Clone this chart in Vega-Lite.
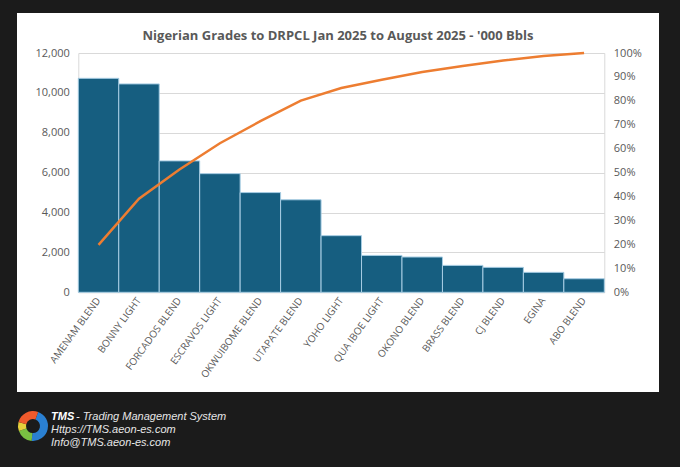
{
  "$schema": "https://vega.github.io/schema/vega-lite/v6.json",
  "background": "#1b1b1b",
  "padding": {"left": 17, "top": 13, "right": 21, "bottom": 17},
  "config": {
    "view": {"stroke": null},
    "axis": {
      "labelFont": "Open Sans",
      "labelColor": "#595959",
      "domainColor": "#d9d9d9",
      "ticks": false,
      "gridColor": "#d9d9d9"
    }
  },
  "spacing": 18,
  "vconcat": [
    {
      "width": 642,
      "height": 379,
      "view": {"fill": "white", "stroke": null},
      "title": {
        "text": "Nigerian Grades to DRPCL Jan 2025 to August 2025 - '000 Bbls",
        "font": "Open Sans",
        "fontSize": 13,
        "fontWeight": "bold",
        "color": "#595959",
        "anchor": "middle",
        "offset": -30
      },
      "data": {
        "values": [
          {"grade": "AMENAM BLEND", "bbl": 10730, "cum": 0.198},
          {"grade": "BONNY LIGHT", "bbl": 10450, "cum": 0.391},
          {"grade": "FORCADOS BLEND", "bbl": 6590, "cum": 0.513},
          {"grade": "ESCRAVOS LIGHT", "bbl": 5950, "cum": 0.623},
          {"grade": "OKWUIBOME BLEND", "bbl": 5000, "cum": 0.715},
          {"grade": "UTAPATE BLEND", "bbl": 4640, "cum": 0.801},
          {"grade": "YOHO LIGHT", "bbl": 2840, "cum": 0.854},
          {"grade": "QUA IBOE LIGHT", "bbl": 1850, "cum": 0.888},
          {"grade": "OKONO BLEND", "bbl": 1770, "cum": 0.921},
          {"grade": "BRASS BLEND", "bbl": 1350, "cum": 0.946},
          {"grade": "CJ BLEND", "bbl": 1250, "cum": 0.969},
          {"grade": "EGINA", "bbl": 1000, "cum": 0.987},
          {"grade": "ABO BLEND", "bbl": 680, "cum": 1.0}
        ]
      },
      "encoding": {
        "x": {
          "field": "grade",
          "type": "nominal",
          "sort": null,
          "scale": {"range": [61.3, 587.3], "paddingInner": 0, "paddingOuter": 0},
          "axis": {
            "title": null,
            "offset": -99.7,
            "labelAngle": -54,
            "labelFontSize": 10,
            "labelPadding": 6
          }
        }
      },
      "layer": [
        {
          "mark": {"type": "bar", "color": "#165e80", "stroke": "#a7cde3", "strokeWidth": 1},
          "encoding": {
            "y": {
              "field": "bbl",
              "type": "quantitative",
              "scale": {"domain": [0, 12000], "range": [279.3, 40]},
              "axis": {
                "title": null,
                "orient": "left",
                "offset": -61.3,
                "values": [0, 2000, 4000, 6000, 8000, 10000, 12000],
                "format": ",.0f",
                "labelFontSize": 11,
                "labelPadding": 9,
                "grid": true
              }
            }
          }
        },
        {
          "mark": {"type": "line", "color": "#ed7d31", "strokeWidth": 2.5},
          "encoding": {
            "y": {
              "field": "cum",
              "type": "quantitative",
              "scale": {"domain": [0, 1], "range": [279.3, 40]},
              "axis": {
                "title": null,
                "orient": "right",
                "offset": -54.7,
                "values": [0, 0.1, 0.2, 0.3, 0.4, 0.5, 0.6, 0.7, 0.8, 0.9, 1],
                "format": ".0%",
                "labelFontSize": 11,
                "labelPadding": 9,
                "grid": false
              }
            }
          }
        }
      ],
      "resolve": {"scale": {"y": "independent"}, "axis": {"y": "independent"}}
    },
    {
      "spacing": 1,
      "hconcat": [
        {
          "width": 32,
          "height": 32,
          "data": {
            "values": [
              {"seg": "a", "v": 165},
              {"seg": "b", "v": 65},
              {"seg": "c", "v": 35},
              {"seg": "d", "v": 95}
            ]
          },
          "mark": {"type": "arc", "innerRadius": 7, "outerRadius": 15},
          "encoding": {
            "theta": {"field": "v", "type": "quantitative", "stack": true, "scale": {"range": [0.35, 6.633]}},
            "color": {
              "field": "seg",
              "type": "nominal",
              "scale": {"domain": ["a", "b", "c", "d"], "range": ["#2a80d2", "#79c142", "#e6cf3c", "#ef5a2c"]},
              "legend": null
            }
          }
        },
        {
          "width": 300,
          "height": 40,
          "encoding": {
            "x": {"field": "col", "type": "ordinal", "scale": {"domain": ["a", "b"], "range": [1, 26], "padding": 0}, "axis": null},
            "y": {"field": "line", "type": "ordinal", "scale": {"domain": [1, 2, 3], "range": [6.7, 33.3], "padding": 0}, "axis": null},
            "text": {"field": "txt"}
          },
          "layer": [
            {
              "data": {"values": [{"line": 1, "col": "a", "txt": "TMS"}]},
              "mark": {"type": "text", "font": "Liberation Sans", "fontStyle": "italic", "fontWeight": "bold", "fontSize": 11, "color": "#ffffff", "align": "left", "baseline": "middle"}
            },
            {
              "data": {
                "values": [
                  {"line": 1, "col": "b", "txt": "- Trading Management System"},
                  {"line": 2, "col": "a", "txt": "Https://TMS.aeon-es.com"},
                  {"line": 3, "col": "a", "txt": "Info@TMS.aeon-es.com"}
                ]
              },
              "mark": {"type": "text", "font": "Liberation Sans", "fontStyle": "italic", "fontSize": 11, "color": "#e6e6e6", "align": "left", "baseline": "middle"}
            }
          ]
        }
      ]
    }
  ]
}
